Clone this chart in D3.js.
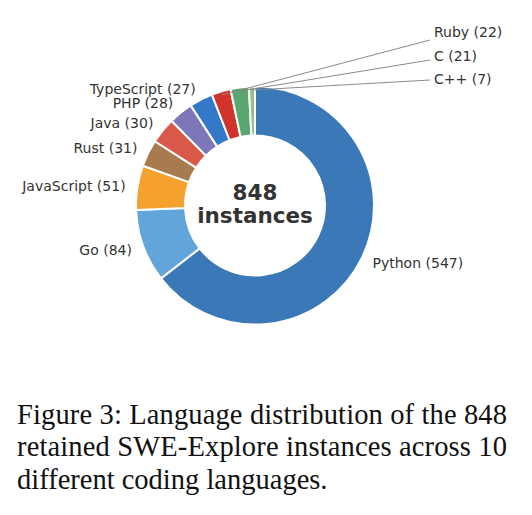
<!DOCTYPE html>
<html>
<head>
<meta charset="utf-8">
<script src="https://cdn.jsdelivr.net/npm/d3@7"></script>
<style>
  body { margin: 0; background: #fff; }
  svg { display: block; }
</style>
</head>
<body>
<div id="chart"></div>
<script>
// data
const languages = ["Python", "Go", "JavaScript", "Rust", "Java", "PHP", "TypeScript", "Ruby", "C", "C++"];
const counts = [547, 84, 51, 31, 30, 28, 27, 22, 21, 7];
const colors = ["#3b78b8", "#62a5da", "#f4a12e", "#a87b4e", "#d95a49", "#7b77b8", "#3479c8", "#d1342d", "#5aa670", "#96c47f"];
// small slices that get a leader line instead of a direct label
const calloutNames = ["Ruby", "C", "C++"];
const captionLines = [
    "Figure 3: Language distribution of the 848",
    "retained SWE-Explore instances across 10",
    "different coding languages."
];

const width = 532, height = 515;
const cx = 255, cy = 205.5;
const outerR = 119, innerR = 70;

const svg = d3.select("#chart").append("svg")
    .attr("width", width)
    .attr("height", height);

const data = languages.map((name, i) => ({ name, value: counts[i], color: colors[i] }));
const total = d3.sum(counts);

// clockwise from 12 o'clock, in given order
const pie = d3.pie().value(d => d.value).sort(null);
const arcs = pie(data);

const arc = d3.arc().innerRadius(innerR).outerRadius(outerR);

const g = svg.append("g").attr("transform", `translate(${cx},${cy})`);

g.selectAll(".slice")
    .data(arcs)
    .join("path")
    .attr("class", "slice")
    .attr("d", arc)
    .attr("fill", d => d.data.color)
    .attr("stroke", "#fff")
    .attr("stroke-width", 2)
    .attr("stroke-linejoin", "round");

// direct labels at 1.1 * outer radius
const labelFont = "'DejaVu Sans', sans-serif";
const direct = arcs.filter(d => !calloutNames.includes(d.data.name));
g.selectAll(".label")
    .data(direct)
    .join("text")
    .attr("class", "label")
    .attr("x", d => Math.sin((d.startAngle + d.endAngle) / 2) * outerR * 1.1)
    .attr("y", d => -Math.cos((d.startAngle + d.endAngle) / 2) * outerR * 1.1)
    .attr("text-anchor", d => Math.sin((d.startAngle + d.endAngle) / 2) < 0 ? "end" : "start")
    .attr("dominant-baseline", "central")
    .attr("font-family", labelFont)
    .attr("font-size", 14)
    .attr("fill", "#333")
    .text(d => `${d.data.name} (${d.data.value})`);

// callouts stacked in a column to the upper right
const callouts = arcs.filter(d => calloutNames.includes(d.data.name));
const colX = 434 - cx, colTop = 32 - cy, colStep = 23.5;
callouts.forEach((d, i) => {
    const mid = (d.startAngle + d.endAngle) / 2;
    const sx = Math.sin(mid) * outerR * 0.97;
    const sy = -Math.cos(mid) * outerR * 0.97;
    const ty = colTop + i * colStep;
    g.append("line")
        .attr("x1", sx).attr("y1", sy)
        .attr("x2", colX - 4).attr("y2", ty + 8 - i * 3.5)
        .attr("stroke", "#8a8a8a")
        .attr("stroke-width", 1);
    g.append("text")
        .attr("x", colX)
        .attr("y", ty)
        .attr("dominant-baseline", "central")
        .attr("font-family", labelFont)
        .attr("font-size", 14)
        .attr("fill", "#333")
        .text(`${d.data.name} (${d.data.value})`);
});

// centre text
g.append("text")
    .attr("x", 0).attr("y", -6)
    .attr("text-anchor", "middle")
    .attr("font-family", labelFont)
    .attr("font-weight", "bold")
    .attr("font-size", 21.5)
    .attr("fill", "#333")
    .text(total);
g.append("text")
    .attr("x", 0).attr("y", 17)
    .attr("text-anchor", "middle")
    .attr("font-family", labelFont)
    .attr("font-weight", "bold")
    .attr("font-size", 21.5)
    .attr("fill", "#333")
    .text("instances");

// caption
svg.selectAll(".caption")
    .data(captionLines)
    .join("text")
    .attr("class", "caption")
    .attr("x", 17)
    .attr("y", (d, i) => 424 + i * 32.4)
    .attr("font-family", "'Liberation Serif', 'Times New Roman', serif")
    .attr("font-size", 28.5)
    .attr("fill", "#111")
    .each(function(d, i) {
        if (i < captionLines.length - 1) {
            d3.select(this).attr("textLength", 490).attr("lengthAdjust", "spacing");
        }
    })
    .text(d => d);
</script>
</body>
</html>
